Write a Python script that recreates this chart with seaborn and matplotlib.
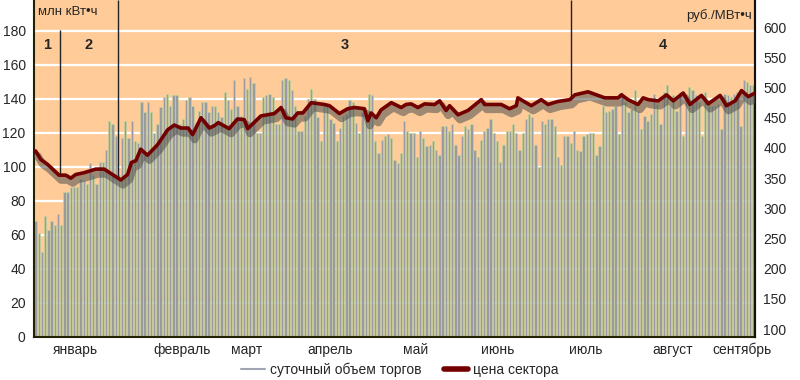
import numpy as np
import matplotlib
matplotlib.use("Agg")
import matplotlib.pyplot as plt
import matplotlib.patheffects as pe
from matplotlib.lines import Line2D
import seaborn as sns

# daily trading volume, mln kWh (left axis)
volume = [
    68, 61, 50, 71, 63, 68, 66, 72, 66, 85, 85, 88, 88, 88, 93, 92, 90, 102, 95, 90,
    103, 103, 110, 127, 125, 118, 95, 117, 127, 117, 127, 115, 114, 138, 132, 138, 132, 120, 125, 135,
    141, 143, 136, 142, 142, 125, 128, 139, 141, 136, 126, 133, 138, 138, 132, 136,
    136, 132, 129, 144, 139, 134, 151, 136, 130, 152, 146, 153, 149, 120, 120, 141, 142, 143, 141, 125,
    125, 151, 152, 151, 145, 136, 121, 121, 130, 140, 146, 140, 129, 115, 136, 136, 128, 126, 115, 123,
    130, 131, 139, 138, 126, 120, 132, 127, 143, 142, 115, 108, 116, 118, 119, 117,
    104, 102, 108, 127, 121, 120, 120, 106, 121, 117, 112, 113, 115, 110, 107, 124, 124, 121, 125, 113,
    107, 118, 124, 122, 125, 110, 106, 116, 121, 123, 128, 120, 115, 103, 113, 121, 121, 125, 120, 110,
    120, 128, 131, 129, 113, 100, 127, 125, 128, 128, 124, 106, 101, 118, 118, 114,
    121, 110, 109, 118, 119, 120, 120, 107, 112, 136, 132, 133, 134, 136, 119, 144, 138, 132, 134, 145,
    133, 122, 130, 127, 131, 143, 137, 125, 144, 148, 136, 142, 133, 144, 118, 142, 147, 145, 142, 138,
    118, 144, 136, 136, 136, 137, 122, 143, 142, 141, 143, 144, 124, 151, 150, 148, 148,
]

# sector price, rub/MWh (right axis): vertex day index and value
price_day = [
    0, 1.6, 3.7, 7.3, 9.4, 11, 12.5, 15.1, 18.8, 21.4, 24, 26.6, 28.7, 29.9, 31.3, 32.8, 34.9, 38,
    41.2, 43.3, 45.3, 47.6, 49, 51.6, 54.2, 55.8, 57, 60.4, 63, 65.1, 66.2, 70.3, 74.5, 76.6, 78.1,
    80.2, 81.8, 83.4, 86, 90.1, 91.7, 94.8, 97.4, 99.5, 102.6, 103.7, 104.7, 106.3, 107.8, 111,
    114.1, 115.6, 117.2, 119.3, 121.4, 124.5, 126.1, 128.1, 129.2, 131.8, 134.9, 139.1, 140.1,
    145.3, 147.9, 150, 150.5, 152.1, 154.7, 157.8, 159.9, 163, 166.7, 168.3, 172.4, 177.6, 181.8,
    182.8, 184.9, 188, 189.6, 191.2, 194.3, 196.9, 199, 202.1, 204.2, 207.8, 209.9, 213.6, 215.6,
    218.3, 220.3, 222.4, 224.5,
]
price = [
    395, 381, 373, 355, 355, 350, 356, 359, 365, 365, 356, 347, 356, 376, 379, 398, 388, 405,
    430, 438, 433, 433, 422, 450, 433, 437, 442, 432, 448, 447, 432, 453, 457, 467, 450,
    448, 458, 458, 475, 472, 470, 457, 465, 467, 465, 445, 458, 450, 463, 475,
    467, 472, 473, 467, 473, 472, 478, 462, 470, 455, 462, 480, 472,
    472, 465, 470, 483, 478, 470, 480, 472, 477, 480, 488, 493, 483, 483,
    488, 480, 472, 483, 480, 478, 488, 478, 491, 472, 487, 473, 487, 470,
    478, 495, 485, 491,
]

months = ["январь", "февраль", "март", "апрель", "май", "июнь", "июль", "август", "сентябрь"]
month_pos = [12.3, 45.8, 65.9, 92, 118.6, 144.3, 171.7, 198.9, 220.5]

period_names = ["1", "2", "3", "4"]
period_bounds = [7.5, 25.8, 167.0]

PEACH = "#ffcc99"
BAR_GREY = "#9a9aa2"
BAR_GREEN = "#c6d39a"
PRICE_RED = "#730000"

sns.set_style("white")
plt.rcParams["font.family"] = ["Liberation Sans Narrow", "Liberation Sans", "DejaVu Sans"]

fig = plt.figure(figsize=(8, 3.8), dpi=100)
ax = fig.add_axes([34 / 800, 43 / 380, 721 / 800, 337 / 380])
ax.set_facecolor(PEACH)

days = np.arange(len(volume))
sns.barplot(x=days, y=volume, ax=ax, native_scale=True, color=BAR_GREY, saturation=1,
            edgecolor=BAR_GREEN, linewidth=0.5, width=0.72, errorbar=None, zorder=2)

ax.set_xlim(-0.5, len(volume) - 0.5)
ax.set_ylim(0, 198)
ax.set_yticks(range(0, 181, 20))
ax.yaxis.grid(True, color="white", linewidth=1.6, zorder=1)
ax.set_axisbelow(True)
ax.set_xticks(month_pos, months)
ax.tick_params(axis="x", length=0, pad=4, labelsize=10)
ax.tick_params(axis="y", length=0, pad=6, labelsize=10)
ax.set_xlabel("")
ax.set_ylabel("")
for side in ["left", "bottom", "right"]:
    ax.spines[side].set_color("#222200")
    ax.spines[side].set_linewidth(1.5)
ax.spines["top"].set_visible(False)

ax2 = ax.twinx()
ax2.set_ylim(87, 645)
ax2.set_yticks(range(100, 601, 50))
ax2.tick_params(axis="y", length=0, pad=6, labelsize=10)
for side in ["left", "top", "bottom"]:
    ax2.spines[side].set_visible(False)
ax2.spines["right"].set_color("#111111")
ax2.spines["right"].set_linewidth(1.5)

# period separators, from the price line up
for k, b in enumerate(period_bounds):
    y0 = np.interp(b, price_day, price)
    y1 = 596 if k == 0 else 645
    ax2.vlines(b, y0, y1, color="#222222", linewidth=1.0, zorder=1)

edges = [-0.5] + period_bounds + [len(volume) - 0.5]
for name, a, b in zip(period_names, edges[:-1], edges[1:]):
    ax.text((a + b) / 2, 171.5, name, ha="center", va="center",
            fontsize=10.5, fontweight="bold", zorder=5)

sns.lineplot(x=price_day, y=price, ax=ax2, color=PRICE_RED, linewidth=2.6, zorder=3,
             path_effects=[pe.SimpleLineShadow(offset=(1.5, -3.5), shadow_color="#505050",
                                               alpha=0.55, linewidth=5.5),
                           pe.Normal()])
ax2.set_ylabel("")
ax2.set_xlim(-0.5, len(volume) - 0.5)

ax.text(0.006, 0.963, "млн кВт•ч", transform=ax.transAxes, ha="left", va="center", fontsize=9.5)
ax.text(0.996, 0.955, "руб./МВт•ч", transform=ax.transAxes, ha="right", va="center", fontsize=9.5)

handles = [Line2D([], [], color="#a0a4b4", linewidth=1.5),
           Line2D([], [], color=PRICE_RED, linewidth=4)]
fig.legend(handles, ["суточный объем торгов", "цена сектора"], loc="center",
           bbox_to_anchor=(0.5, 10 / 380), ncol=2, frameon=False, fontsize=10,
           handlelength=1.7, columnspacing=1.6, handletextpad=0.4)

fig.savefig("out.png", dpi=100)
